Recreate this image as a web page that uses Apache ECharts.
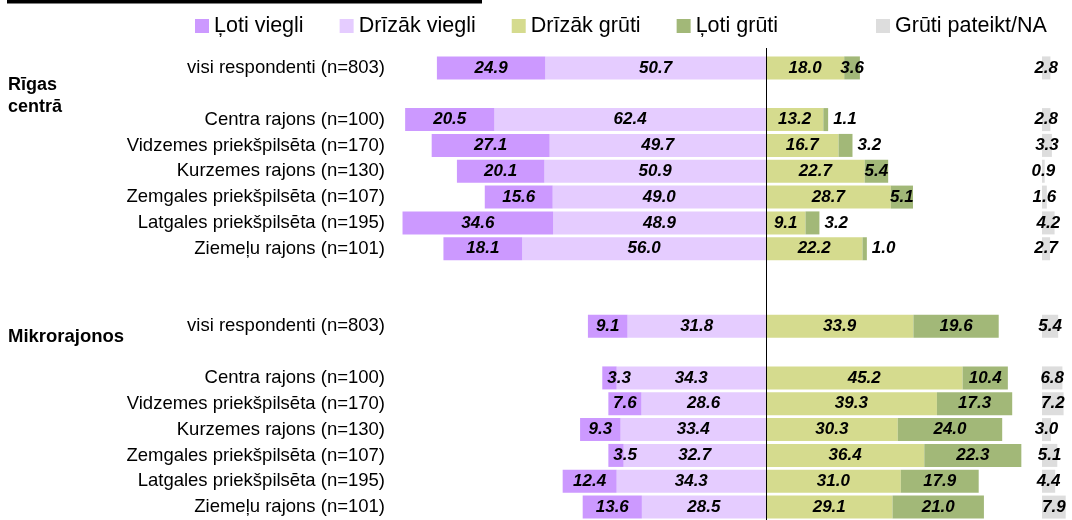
<!DOCTYPE html>
<html>
<head>
<meta charset="utf-8">
<script src="https://cdn.jsdelivr.net/npm/echarts@6/dist/echarts.min.js"></script>
<style>
  html, body { margin: 0; padding: 0; background: #fff; }
  #chart { width: 1072px; height: 520px; }
</style>
</head>
<body>
<div id="chart"></div>
<script>
// kategorijas (tukšās rindas = atstarpes starp grupām)
var categories = [
    'visi respondenti (n=803)', '',
    'Centra rajons (n=100)', 'Vidzemes priekšpilsēta (n=170)', 'Kurzemes rajons (n=130)',
    'Zemgales priekšpilsēta (n=107)', 'Latgales priekšpilsēta (n=195)', 'Ziemeļu rajons (n=101)',
    '', '',
    'visi respondenti (n=803)', '',
    'Centra rajons (n=100)', 'Vidzemes priekšpilsēta (n=170)', 'Kurzemes rajons (n=130)',
    'Zemgales priekšpilsēta (n=107)', 'Latgales priekšpilsēta (n=195)', 'Ziemeļu rajons (n=101)'
];

var lotiViegli   = [24.9, null, 20.5, 27.1, 20.1, 15.6, 34.6, 18.1, null, null, 9.1, null, 3.3, 7.6, 9.3, 3.5, 12.4, 13.6];
var drizakViegli = [50.7, null, 62.4, 49.7, 50.9, 49.0, 48.9, 56.0, null, null, 31.8, null, 34.3, 28.6, 33.4, 32.7, 34.3, 28.5];
var drizakGruti  = [18.0, null, 13.2, 16.7, 22.7, 28.7, 9.1, 22.2, null, null, 33.9, null, 45.2, 39.3, 30.3, 36.4, 31.0, 29.1];
var lotiGruti    = [3.6, null, 1.1, 3.2, 5.4, 5.1, 3.2, 1.0, null, null, 19.6, null, 10.4, 17.3, 24.0, 22.3, 17.9, 21.0];
var grutiPateikt = [2.8, null, 2.8, 3.3, 0.9, 1.6, 4.2, 2.7, null, null, 5.4, null, 6.8, 7.2, 3.0, 5.1, 4.4, 7.9];

var legendNames = ['Ļoti viegli', 'Drīzāk viegli', 'Drīzāk grūti', 'Ļoti grūti', 'Grūti pateikt/NA'];
var colors = ['#cc99ff', '#e5ccff', '#d5db8e', '#a2b878', '#dddddd'];

var FONT = "'Liberation Sans', Arial, sans-serif";

var chart = echarts.init(document.getElementById('chart'));

var valueLabel = {
    show: true,
    position: 'inside',
    color: '#000',
    fontFamily: FONT,
    fontSize: 17,
    fontWeight: 'bold',
    fontStyle: 'italic',
    formatter: function (p) { return Math.abs(p.value).toFixed(1); }
};

// kreisā puse - negatīvas vērtības
function leftData(arr, small) {
    return arr.map(function (v) {
        if (v == null) return null;
        if (small && v < 5) return { value: -v, label: { position: 'insideLeft', distance: 5 } };
        return -v;
    });
}
function rightData(arr, small) {
    return arr.map(function (v) {
        if (v == null) return null;
        if (small && v < 3.5) return { value: v, label: { position: 'right', distance: 5 } };
        return v;
    });
}

function bar(name, data, color, extra) {
    var s = {
        name: name,
        type: 'bar',
        stack: 'a',
        barWidth: 23,
        data: data,
        itemStyle: { color: color },
        label: valueLabel,
        silent: true
    };
    return Object.assign(s, extra || {});
}

var legendText = { fontSize: 21.5, color: '#000', fontFamily: FONT };

var option = {
    animation: false,
    backgroundColor: '#fff',
    textStyle: { fontFamily: FONT },
    legend: [{
        data: legendNames.slice(0, 4),
        left: 195, top: 15, padding: 0,
        itemWidth: 14, itemHeight: 14, itemGap: 36,
        icon: 'rect',
        textStyle: legendText
    }, {
        data: [legendNames[4]],
        left: 876, top: 15, padding: 0,
        itemWidth: 14, itemHeight: 14,
        icon: 'rect',
        textStyle: legendText
    }],
    grid: [
        { left: 396, top: 55, width: 631, height: 470 },
        { left: 1042, top: 55, width: 43.5, height: 470 }
    ],
    xAxis: [
        { type: 'value', gridIndex: 0, min: -85, max: 60, show: false },
        { type: 'value', gridIndex: 1, min: 0, max: 10, show: false }
    ],
    yAxis: [{
        type: 'category', gridIndex: 0, data: categories, inverse: true,
        axisLine: { show: false, onZero: false },
        axisTick: { show: false },
        axisLabel: { color: '#000', fontSize: 18.5, fontFamily: FONT, margin: 11 }
    }, {
        type: 'category', gridIndex: 1, data: categories, inverse: true, show: false
    }],
    graphic: [
        { type: 'rect', shape: { x: 7, y: 0, width: 475, height: 3.5 }, style: { fill: '#000' } },
        { type: 'line', shape: { x1: 766.5, y1: 48, x2: 766.5, y2: 56 }, style: { stroke: '#000', lineWidth: 1 } },
        { type: 'text', x: 8, y: 85, style: { text: 'Rīgas', font: 'bold 18px ' + FONT, fill: '#000', verticalAlign: 'middle' } },
        { type: 'text', x: 8, y: 107, style: { text: 'centrā', font: 'bold 18px ' + FONT, fill: '#000', verticalAlign: 'middle' } },
        { type: 'text', x: 8, y: 337, style: { text: 'Mikrorajonos', font: 'bold 18.5px ' + FONT, fill: '#000', verticalAlign: 'middle' } }
    ],
    series: [
        bar('Drīzāk viegli', leftData(drizakViegli, false), colors[1], {
            markLine: {
                silent: true,
                symbol: ['none', 'none'],
                label: { show: false },
                lineStyle: { color: '#000', width: 1, type: 'solid' },
                data: [{ xAxis: 0 }]
            }
        }),
        bar('Ļoti viegli', leftData(lotiViegli, true), colors[0]),
        bar('Drīzāk grūti', rightData(drizakGruti, false), colors[2]),
        bar('Ļoti grūti', rightData(lotiGruti, true), colors[3]),
        {
            name: 'Grūti pateikt/NA',
            type: 'bar',
            xAxisIndex: 1, yAxisIndex: 1,
            barWidth: 23,
            data: grutiPateikt,
            itemStyle: { color: colors[4] },
            label: valueLabel,
            silent: true
        }
    ]
};

chart.setOption(option);
</script>
</body>
</html>
